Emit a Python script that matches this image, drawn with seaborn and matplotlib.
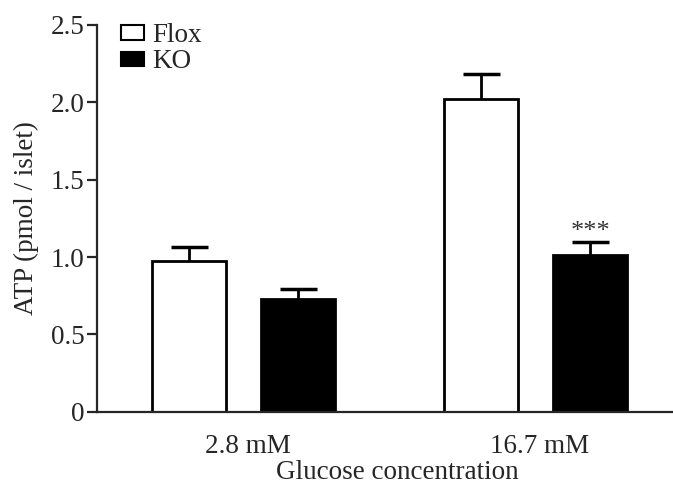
import pandas as pd
import matplotlib
matplotlib.use('Agg')
import matplotlib.pyplot as plt
import matplotlib.patches as mpatches
import matplotlib.transforms as mtransforms
import seaborn as sns

# Data
glucose = ['2.8 mM', '16.7 mM']
genotypes = ['Flox', 'KO']
atp_flox = [0.975, 2.02]
atp_ko = [0.728, 1.016]
sem_flox = [0.09, 0.16]
sem_ko = [0.065, 0.08]
yticks = [0, 0.5, 1.0, 1.5, 2.0, 2.5]
ytick_labels = ['0', '0.5', '1.0', '1.5', '2.0', '2.5']

df = pd.DataFrame({
    'glucose': glucose * 2,
    'genotype': ['Flox'] * 2 + ['KO'] * 2,
    'atp': atp_flox + atp_ko,
    'sem': sem_flox + sem_ko,
})

sns.set_style('ticks')
plt.rcParams['font.family'] = ['Liberation Serif', 'DejaVu Serif']
fs = 19.5

fig = plt.figure(figsize=(6.73, 4.84), dpi=100)
ax = fig.add_axes([0.144, 0.149, 0.856, 0.80])

sns.barplot(data=df, x='glucose', y='atp', hue='genotype', hue_order=genotypes,
            palette={'Flox': 'white', 'KO': 'black'}, edgecolor='black',
            linewidth=2, errorbar=None, width=0.745, gap=0.32, ax=ax, legend=False)

# upper-only error bars, placed from the drawn bars
bars = [p for p in ax.patches if p.get_height() > 0]
for p in bars:
    w = p.get_width()
    xc = p.get_x() + w / 2
    h = p.get_height()
    row = df[(df['atp'] - h).abs() < 1e-9].iloc[0]
    top = h + row['sem']
    ax.vlines(xc, h, top, color='black', linewidth=2, zorder=1)
    ax.hlines(top, xc - w / 4, xc + w / 4, color='black', linewidth=2.5, zorder=1)
    if row['genotype'] == 'KO' and row['glucose'] == '16.7 mM':
        ax.text(xc, top - 0.005, '***', ha='center', va='bottom',
                fontsize=19, color='#333333')

ax.set_ylim(0, 2.5)
ax.set_xlim(-0.503, 1.47)
ax.set_yticks(yticks)
ax.set_yticklabels(ytick_labels)
ax.tick_params(axis='y', length=7, width=1.6, pad=2, labelsize=fs)
ax.tick_params(axis='x', length=0, pad=16, labelsize=fs)
for s in ['top', 'right']:
    ax.spines[s].set_visible(False)
for s in ['left', 'bottom']:
    ax.spines[s].set_linewidth(1.6)

# category labels sit slightly right of the bar pairs in the original
shift = mtransforms.ScaledTranslation(0.04, 0, fig.dpi_scale_trans)
for lbl in ax.get_xticklabels():
    lbl.set_transform(lbl.get_transform() + shift)

ax.set_xlabel('Glucose concentration', fontsize=fs)
ax.xaxis.set_label_coords(0.521, -0.125)
ax.set_ylabel('ATP (pmol / islet)', fontsize=fs, labelpad=8)

handles = [mpatches.Patch(facecolor='white', edgecolor='black', linewidth=1.5, label='Flox'),
           mpatches.Patch(facecolor='black', edgecolor='black', linewidth=1.5, label='KO')]
ax.legend(handles=handles, loc='upper left', bbox_to_anchor=(0.042, 1.004),
          frameon=False, handlelength=0.85, handleheight=0.45, handletextpad=0.3,
          labelspacing=0.05, borderpad=0, borderaxespad=0, fontsize=fs)

fig.savefig('out.png', dpi=100)
